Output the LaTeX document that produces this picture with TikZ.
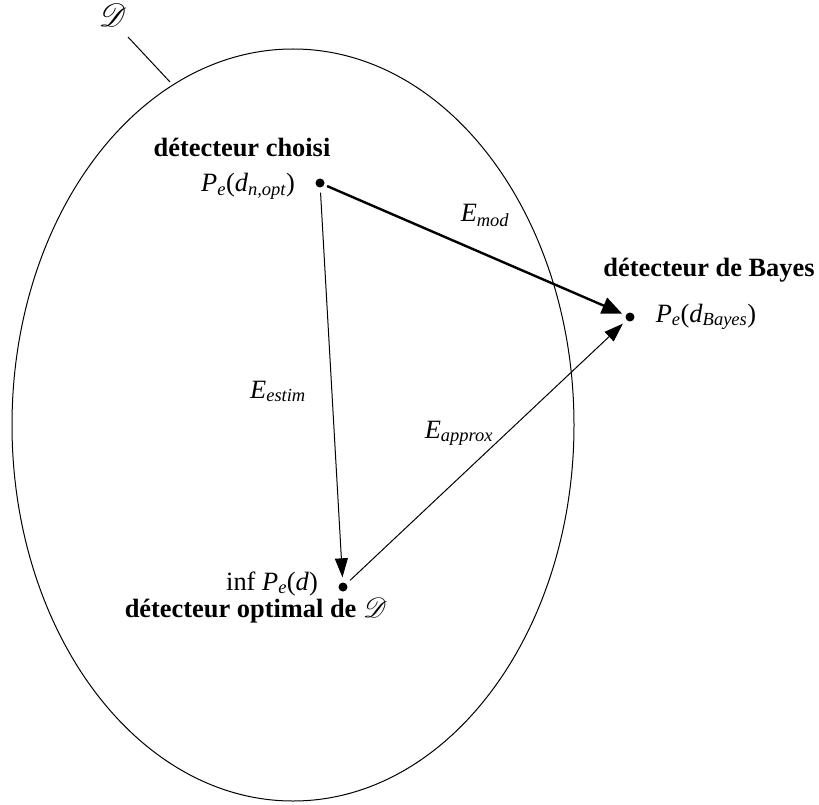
\documentclass[tikz,border=0pt]{standalone}
\usepackage{fontspec}
\setmainfont{Liberation Serif}
\usepackage{mathrsfs}
\usetikzlibrary{arrows.meta}
\tikzset{
  lbl/.style={inner sep=0pt, anchor=base, font=\fontsize{26.4}{30}\selectfont},
  blbl/.style={lbl, font=\fontsize{26.4}{30}\selectfont\bfseries},
  pt/.style={circle, fill=black, inner sep=0pt, minimum size=9pt},
  thick arr/.style={line width=2.4pt, -{Triangle[length=20pt,width=17pt]}, shorten >=4pt, shorten <=3pt},
  thin arr/.style={line width=1pt, -{Triangle[length=19pt,width=13pt]}, shorten >=5pt, shorten <=5pt}
}
\newcommand{\sub}[1]{\textsubscript{\itshape #1}}
\newcommand{\scrD}[1]{\scalebox{#1}{$\mathscr{D}$}}
\begin{document}
\begin{tikzpicture}[x=1pt,y=-1pt]
\useasboundingbox (0,0) rectangle (819,805);
% ellipse
\draw[line width=1pt] (293,425) ellipse [x radius=281, y radius=376];
% set label
\node[lbl] (Dlab) at (113,27) {\scrD{1.3}};
\coordinate (Dl1) at (128,37);
\coordinate (Dl2) at (170,82);
\draw[line width=1pt] (Dl1) -- (Dl2);
% points
\node[pt] (choisi) at (320,183) {};
\node[pt] (bayes) at (630,317) {};
\node[pt] (opt) at (343,587) {};
% labels
\node[blbl] (tchoisi) at (242,157) {détecteur choisi};
\node[lbl] (pchoisi) at (248,192) {\textit{P}\sub{e}(\textit{d}\sub{n,opt})};
\node[blbl] (tbayes) at (709,276) {détecteur de Bayes};
\node[lbl] (pbayes) at (706,322) {\textit{P}\sub{e}(\textit{d}\sub{Bayes})};
\node[lbl] (popt) at (272,590) {inf \textit{P}\sub{e}(\textit{d})};
\node[blbl] (topt) at (256,617) {détecteur optimal de \scrD{1.12}};
% arrows
\draw[thick arr] (choisi) -- (bayes);
\draw[thin arr] (choisi) -- (opt);
\draw[thin arr] (opt) -- (bayes);
% arrow labels
\node[lbl] (emod) at (485,222) {\textit{E}\sub{mod}};
\node[lbl] (eestim) at (278,398) {\textit{E}\sub{estim}};
\node[lbl] (eapprox) at (459,438) {\textit{E}\sub{approx}};
\end{tikzpicture}
\end{document}
